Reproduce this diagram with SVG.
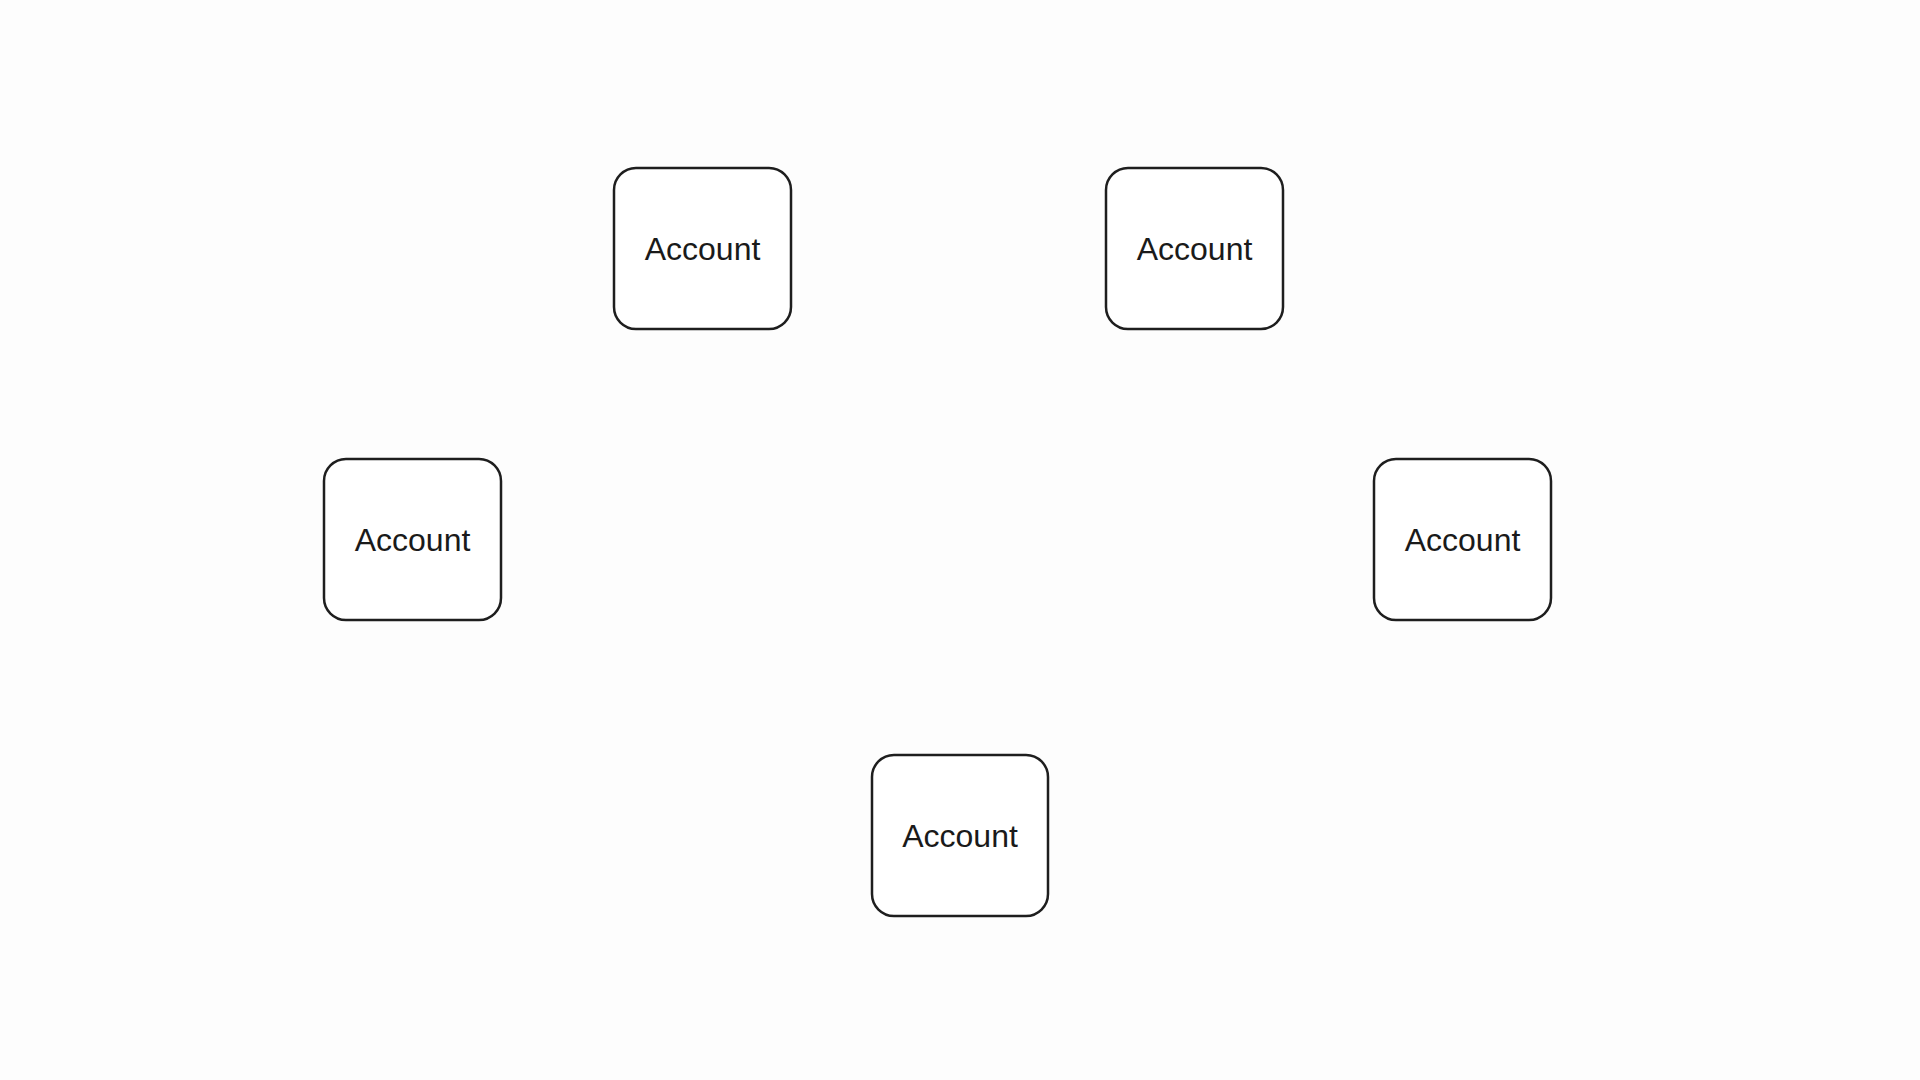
<svg xmlns="http://www.w3.org/2000/svg" width="1920" height="1080" viewBox="0 0 1920 1080">
<style>
.box{fill:#ffffff;stroke:#1e1e1e;stroke-width:2.5}
.lbl{font-family:"Liberation Sans",Arial,sans-serif;font-size:32px;fill:#1a1a1a;text-anchor:middle}
</style>
<rect width="1920" height="1080" fill="#fdfdfd"/>
<g id="connectors"></g>
<g id="node-1"><rect class="box" x="614" y="168" width="177" height="161" rx="22"/><text class="lbl" x="702.5" y="260">Account</text></g>
<g id="node-2"><rect class="box" x="1106" y="168" width="177" height="161" rx="22"/><text class="lbl" x="1194.5" y="260">Account</text></g>
<g id="node-3"><rect class="box" x="324" y="459" width="177" height="161" rx="22"/><text class="lbl" x="412.5" y="551">Account</text></g>
<g id="node-4"><rect class="box" x="1374" y="459" width="177" height="161" rx="22"/><text class="lbl" x="1462.5" y="551">Account</text></g>
<g id="node-5"><rect class="box" x="872" y="755" width="176" height="161" rx="22"/><text class="lbl" x="960" y="847">Account</text></g>
</svg>
